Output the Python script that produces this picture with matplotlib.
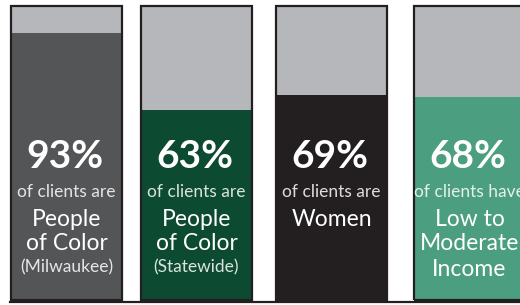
import matplotlib.pyplot as plt
from matplotlib.patches import Rectangle

# data
percents = [93, 63, 69, 68]
intro_lines = ["of clients are", "of clients are", "of clients are", "of clients have"]
main_labels = [["People", "of Color"], ["People", "of Color"], ["Women"], ["Low to", "Moderate", "Income"]]
sub_labels = ["(Milwaukee)", "(Statewide)", "", ""]

# layout / style
fill_colors = ["#545557", "#0c4a32", "#231f20", "#4b9e80"]
empty_color = "#b6b7bb"
edge_color = "#231f20"
panel_left = [11, 141, 276, 414]
panel_width = 111
W, H = 520, 305
zero_px, hundred_px = 272.0, 15.3   # where 0% and 100% sit on the image
panel_top_px, panel_bottom_px = 6, 300
px_per_pct = (zero_px - hundred_px) / 100.0

plt.rcParams["font.family"] = ["Lato", "DejaVu Sans"]

fig = plt.figure(figsize=(W / 100, H / 100), dpi=100)
ax = fig.add_axes([0, (H - zero_px) / H, 1, (zero_px - hundred_px) / H])
ax.set_xlim(0, W)
ax.set_ylim(0, 100)
ax.axis("off")


def ypos(px):
    # convert a pixel row into the percent scale of the axes
    return (zero_px - px) / px_per_pct


y_bot = ypos(panel_bottom_px)
y_top = ypos(panel_top_px)

centers = [l + panel_width / 2 for l in panel_left]
ax.bar(centers, [y_top - y_bot] * len(percents), bottom=y_bot, width=panel_width,
       color=empty_color, clip_on=False)
ax.bar(centers, [p - y_bot for p in percents], bottom=y_bot, width=panel_width,
       color=fill_colors, clip_on=False)

# panel borders
for l in panel_left:
    ax.add_patch(Rectangle((l, y_bot), panel_width, y_top - y_bot, fill=False,
                           edgecolor=edge_color, linewidth=1.6, clip_on=False, zorder=3))

# baseline
ax.plot([10, W], [ypos(301.5), ypos(301.5)], color=edge_color, lw=1.6, clip_on=False, zorder=4)

for i, c in enumerate(centers):
    ax.text(c - 2, ypos(156), f"{percents[i]}%", ha="center", va="center", color="white",
            fontsize=28, fontweight="bold")
    ax.text(c, ypos(192), intro_lines[i], ha="center", va="center", color="white",
            alpha=0.85, fontsize=12.5)
    y = 219
    for line in main_labels[i]:
        ax.text(c, ypos(y), line, ha="center", va="center", color="white", fontsize=16.5)
        y += 25
    if sub_labels[i]:
        ax.text(c, ypos(y - 2), sub_labels[i], ha="center", va="center", color="white",
                alpha=0.85, fontsize=12.5)

fig.savefig("out.png", dpi=100)
